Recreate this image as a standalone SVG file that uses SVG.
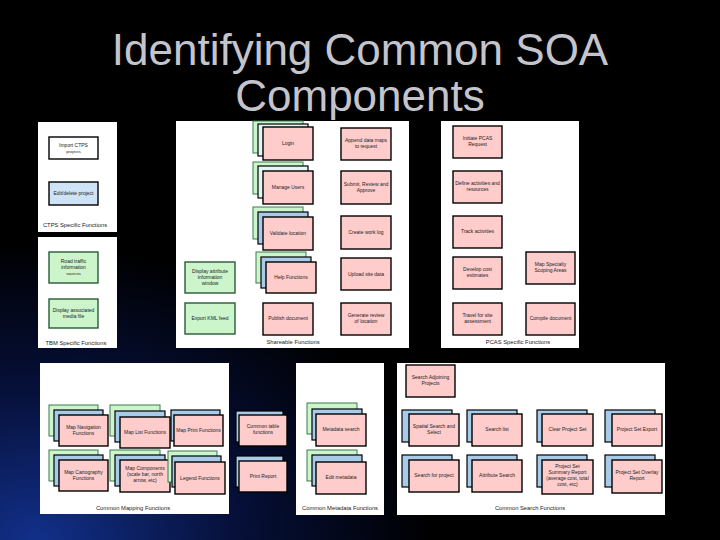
<svg xmlns="http://www.w3.org/2000/svg" width="720" height="540" viewBox="0 0 720 540">
<defs>
<radialGradient id="bg" cx="0.05" cy="1" r="0.55">
<stop offset="0" stop-color="#12308a"/>
<stop offset="0.5" stop-color="#06103a"/>
<stop offset="1" stop-color="#000000"/>
</radialGradient>
<style>
.panel{fill:#ffffff;stroke:none}
.pink{fill:#ffcccc;stroke:#000;stroke-width:1.4}
.green{fill:#ccf5cc;stroke:#3c7a4c;stroke-width:1}
.gfront{fill:#ccf5cc;stroke:#2a5a36;stroke-width:1.4}
.blue{fill:#a9cbea;stroke:#000;stroke-width:1.2}
.lblue{fill:#cfe3f7;stroke:#000;stroke-width:1.4}
.cyan{fill:#e3f5f5;stroke:#000;stroke-width:1.2}
.white{fill:#fff;stroke:#000;stroke-width:1.4}
text{font-family:"Liberation Sans",Arial,sans-serif;fill:#222}
.t{font-size:5px;text-anchor:middle}
.ts{font-size:4.2px;text-anchor:middle}
.lab{font-size:5.8px;text-anchor:middle}
.title{font-size:44px;fill:#c4c4cc;text-anchor:middle}
</style>
</defs>
<rect width="720" height="540" fill="#000"/>
<rect width="720" height="540" fill="url(#bg)"/>
<g id="title">
<text class="title" x="360" y="65">Identifying Common SOA</text>
<text class="title" x="360" y="111">Components</text>
</g>

<!-- Panels -->
<g id="panels">
<rect class="panel" x="38" y="122" width="79" height="110"/>
<rect class="panel" x="38" y="237" width="79" height="111"/>
<rect class="panel" x="176" y="121" width="233" height="227"/>
<rect class="panel" x="441" y="121" width="138" height="227"/>
<rect class="panel" x="40" y="363" width="189" height="151"/>
<rect class="panel" x="296" y="363" width="88" height="152"/>
<rect class="panel" x="397" y="363" width="268" height="152"/>
</g>

<!-- CTPS -->
<g id="ctps-import"><rect class="white" x="49" y="137" width="49" height="22"/><text class="t" x="73.5" y="147">Import CTPS</text><text class="ts" x="73.5" y="153">projects</text></g>
<g id="ctps-edit"><rect class="lblue" x="49" y="182" width="49" height="23"/><text class="t" x="73.5" y="195">Edit/delete project</text></g>
<text class="lab" x="75" y="227">CTPS Specific Functions</text>

<!-- TBM -->
<g id="tbm-road"><rect class="gfront" x="49" y="252" width="49" height="31"/><text class="t" x="73.5" y="263">Road traffic</text><text class="t" x="73.5" y="269">information</text><text class="ts" x="73.5" y="275">sources</text></g>
<g id="tbm-display"><rect class="gfront" x="49" y="299" width="49" height="29"/><text class="t" x="73.5" y="312">Display associated</text><text class="t" x="73.5" y="318">media file</text></g>
<text class="lab" x="76" y="345">TBM Specific Functions</text>

<!-- Shareable -->
<g id="login"><rect class="green" x="253" y="121" width="50" height="32"/><rect class="cyan" x="258" y="124" width="50" height="32"/><rect class="pink" x="263" y="127" width="50" height="33"/><text class="t" x="288" y="145">Login</text></g>
<g id="manage-users"><rect class="green" x="253" y="162" width="50" height="32"/><rect class="cyan" x="258" y="166" width="50" height="32"/><rect class="pink" x="263" y="171" width="50" height="33"/><text class="t" x="288" y="189">Manage Users</text></g>
<g id="validate-location"><rect class="green" x="253" y="207" width="50" height="32"/><rect class="blue" x="258" y="212" width="50" height="32"/><rect class="pink" x="263" y="217" width="50" height="33"/><text class="t" x="288" y="235">Validate location</text></g>
<g id="help-functions"><rect class="green" x="256" y="252" width="50" height="31"/><rect class="blue" x="261" y="257" width="50" height="31"/><rect class="pink" x="266" y="262" width="50" height="31"/><text class="t" x="291" y="279">Help Functions</text></g>
<g id="publish-document"><rect class="pink" x="263" y="303" width="50" height="32"/><text class="t" x="288" y="320">Publish document</text></g>
<g id="display-attribute"><rect class="gfront" x="185" y="262" width="50" height="31"/><text class="t" x="210" y="273">Display attribute</text><text class="t" x="210" y="279">information</text><text class="t" x="210" y="285">window</text></g>
<g id="export-kml"><rect class="gfront" x="185" y="303" width="50" height="31"/><text class="t" x="210" y="320">Export KML feed</text></g>
<g id="append-data"><rect class="pink" x="341" y="128" width="50" height="32"/><text class="t" x="366" y="142">Append data maps</text><text class="t" x="366" y="148">to request</text></g>
<g id="submit-review"><rect class="pink" x="341" y="171" width="50" height="33"/><text class="t" x="366" y="186">Submit, Review and</text><text class="t" x="366" y="192">Approve</text></g>
<g id="create-work-log"><rect class="pink" x="341" y="216" width="50" height="33"/><text class="t" x="366" y="234">Create work log</text></g>
<g id="upload-site-data"><rect class="pink" x="341" y="258" width="50" height="32"/><text class="t" x="366" y="276">Upload site data</text></g>
<g id="generate-review"><rect class="pink" x="341" y="303" width="50" height="32"/><text class="t" x="366" y="317">Generate review</text><text class="t" x="366" y="323">of location</text></g>
<text class="lab" x="293" y="344">Shareable Functions</text>

<!-- PCAS -->
<g id="initiate-pcas"><rect class="pink" x="453" y="126" width="49" height="32"/><text class="t" x="477.5" y="140">Initiate PCAS</text><text class="t" x="477.5" y="146">Request</text></g>
<g id="define-activities"><rect class="pink" x="453" y="171" width="49" height="32"/><text class="t" x="477.5" y="185">Define activities and</text><text class="t" x="477.5" y="191">resources</text></g>
<g id="track-activities"><rect class="pink" x="453" y="216" width="49" height="32"/><text class="t" x="477.5" y="233">Track activities</text></g>
<g id="develop-cost"><rect class="pink" x="453" y="257" width="49" height="32"/><text class="t" x="477.5" y="271">Develop cost</text><text class="t" x="477.5" y="277">estimates</text></g>
<g id="map-specialty"><rect class="pink" x="526" y="252" width="49" height="32"/><text class="t" x="550.5" y="266">Map Specialty</text><text class="t" x="550.5" y="272">Scoping Areas</text></g>
<g id="travel-site"><rect class="pink" x="453" y="303" width="49" height="32"/><text class="t" x="477.5" y="317">Travel for site</text><text class="t" x="477.5" y="323">assessment</text></g>
<g id="compile-document"><rect class="pink" x="526" y="303" width="49" height="32"/><text class="t" x="550.5" y="320">Compile document</text></g>
<text class="lab" x="518" y="344">PCAS Specific Functions</text>

<!-- Common Mapping -->
<g id="map-navigation"><rect class="green" x="49" y="405" width="49" height="31"/><rect class="blue" x="54" y="410" width="49" height="31"/><rect class="pink" x="59" y="415" width="49" height="31"/><text class="t" x="83.5" y="429">Map Navigation</text><text class="t" x="83.5" y="435">Functions</text></g>
<g id="map-list"><rect class="green" x="110" y="405" width="50" height="31"/><rect class="blue" x="115" y="411" width="50" height="31"/><rect class="pink" x="120" y="417" width="50" height="31"/><text class="t" x="145" y="434">Map List Functions</text></g>
<g id="map-print"><rect class="blue" x="171" y="410" width="49" height="31"/><rect class="pink" x="174" y="415" width="49" height="31"/><text class="t" x="198.5" y="432">Map Print Functions</text></g>
<g id="map-cartography"><rect class="green" x="49" y="450" width="49" height="31"/><rect class="blue" x="54" y="455" width="49" height="31"/><rect class="pink" x="59" y="460" width="49" height="31"/><text class="t" x="83.5" y="474">Map Cartography</text><text class="t" x="83.5" y="480">Functions</text></g>
<g id="map-components"><rect class="green" x="110" y="450" width="50" height="31"/><rect class="blue" x="115" y="455" width="50" height="31"/><rect class="pink" x="120" y="460" width="50" height="32"/><text class="t" x="145" y="470">Map Components</text><text class="t" x="145" y="476">(scale bar, north</text><text class="t" x="145" y="482">arrow, etc)</text></g>
<g id="legend-functions"><rect class="green" x="168" y="451" width="49" height="31"/><rect class="blue" x="172" y="456" width="49" height="31"/><rect class="pink" x="175" y="462" width="50" height="32"/><text class="t" x="200" y="480">Legend Functions</text></g>
<g id="common-table"><rect class="blue" x="236" y="411" width="47" height="31"/><rect class="pink" x="239" y="415" width="48" height="31"/><text class="t" x="263" y="428">Common table</text><text class="t" x="263" y="434">functions</text></g>
<g id="print-report"><rect class="blue" x="236" y="456" width="47" height="31"/><rect class="pink" x="239" y="461" width="48" height="31"/><text class="t" x="263" y="478">Print Report</text></g>
<text class="lab" x="133" y="510">Common Mapping Functions</text>

<!-- Common Metadata -->
<g id="metadata-search"><rect class="green" x="307" y="403" width="50" height="31"/><rect class="blue" x="312" y="409" width="50" height="31"/><rect class="pink" x="316" y="414" width="50" height="32"/><text class="t" x="341" y="431">Metadata search</text></g>
<g id="edit-metadata"><rect class="green" x="307" y="450" width="50" height="31"/><rect class="blue" x="312" y="455" width="50" height="31"/><rect class="pink" x="316" y="462" width="50" height="32"/><text class="t" x="341" y="479">Edit metadata</text></g>
<text class="lab" x="340" y="510">Common Metadata Functions</text>

<!-- Common Search -->
<g id="search-adjoining"><rect class="pink" x="406" y="365" width="49" height="32"/><text class="t" x="430.5" y="379">Search Adjoining</text><text class="t" x="430.5" y="385">Projects</text></g>
<g id="spatial-search"><rect class="blue" x="402" y="410" width="50" height="32"/><rect class="pink" x="409" y="414" width="50" height="32"/><text class="t" x="434" y="428">Spatial Search and</text><text class="t" x="434" y="434">Select</text></g>
<g id="search-list"><rect class="blue" x="467" y="410" width="50" height="32"/><rect class="pink" x="472" y="414" width="50" height="32"/><text class="t" x="497" y="431">Search list</text></g>
<g id="search-project"><rect class="blue" x="402" y="455" width="50" height="32"/><rect class="pink" x="409" y="460" width="50" height="32"/><text class="t" x="434" y="477">Search for project</text></g>
<g id="attribute-search"><rect class="blue" x="467" y="455" width="50" height="32"/><rect class="pink" x="472" y="460" width="50" height="32"/><text class="t" x="497" y="477">Attribute Search</text></g>
<g id="clear-project-set"><rect class="blue" x="537" y="410" width="50" height="32"/><rect class="pink" x="542" y="414" width="51" height="32"/><text class="t" x="567.5" y="431">Clear Project Set</text></g>
<g id="project-set-export"><rect class="blue" x="605" y="410" width="50" height="32"/><rect class="pink" x="612" y="414" width="50" height="32"/><text class="t" x="637" y="431">Project Set Export</text></g>
<g id="project-set-summary"><rect class="blue" x="537" y="455" width="50" height="32"/><rect class="pink" x="542" y="460" width="51" height="34"/><text class="t" x="567.5" y="468">Project Set</text><text class="t" x="567.5" y="474">Summary Report</text><text class="t" x="567.5" y="480">(average cost, total</text><text class="t" x="567.5" y="486">cost, etc)</text></g>
<g id="project-set-overlay"><rect class="blue" x="605" y="455" width="50" height="32"/><rect class="pink" x="612" y="460" width="50" height="33"/><text class="t" x="637" y="474">Project Set Overlay</text><text class="t" x="637" y="480">Report</text></g>
<text class="lab" x="530" y="510">Common Search Functions</text>
</svg>
